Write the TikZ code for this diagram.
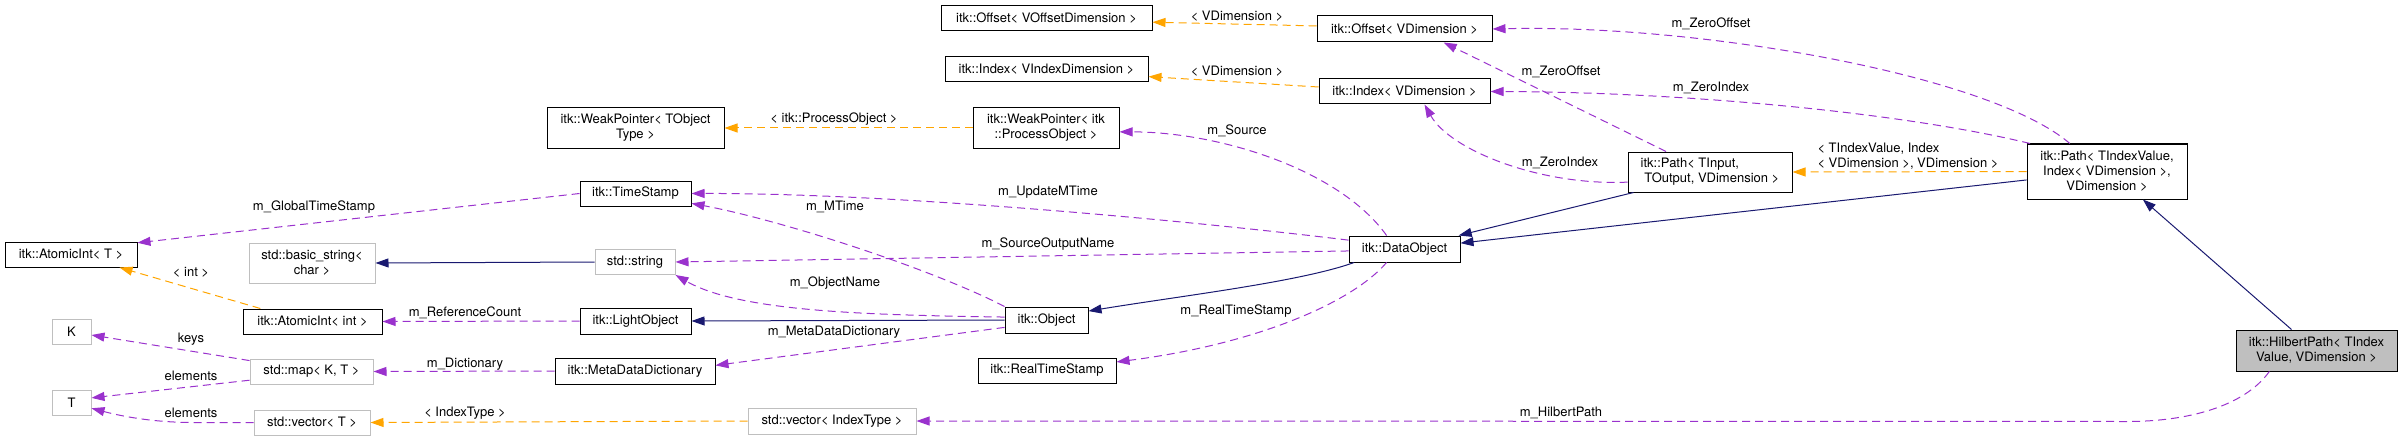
\documentclass[tikz,border=0pt]{standalone}
\usepackage{fontspec}
\setmainfont{TeX Gyre Heros}
\usetikzlibrary{arrows.meta}
\definecolor{usecol}{HTML}{9A32CD}
\definecolor{tplcol}{HTML}{FFA500}
\definecolor{inhcol}{HTML}{191970}
\definecolor{undoccol}{HTML}{BFBFBF}

\begin{document}
\begin{tikzpicture}[x=1pt, y=-1pt,
    font=\fontsize{13}{15}\selectfont,
    cls/.style={draw=black, line width=1pt, inner sep=2pt, align=center, minimum height=25pt},
    undoc/.style={cls, draw=undoccol},
    lbl/.style={inner sep=0pt, align=left},
    uses/.style={draw=usecol, line width=1pt, dash pattern=on 8pt off 5pt, -{Triangle[length=13pt,width=9pt]}},
    tmpl/.style={uses, draw=tplcol},
    inherit/.style={draw=inhcol, line width=1pt, -{Triangle[length=13pt,width=9pt]}}]
    \useasboundingbox (0,0) rectangle (2403,441);

    % Classes
    \node[cls, minimum width=132pt] (atomT) at (71,254.5) {itk::AtomicInt< T >};
    \node[undoc, minimum width=126pt, minimum height=40pt] (basicstr) at (312,263) {std::basic\_string<\\char >};
    \node[cls, minimum width=139pt] (atomInt) at (312.5,321.5) {itk::AtomicInt< int >};
    \node[undoc, minimum width=39pt] (keyK) at (71.5,331.5) {K};
    \node[undoc, minimum width=123pt] (stdmap) at (311.5,371.5) {std::map< K, T >};
    \node[undoc, minimum width=39pt] (valT) at (71.5,402.5) {T};
    \node[undoc, minimum width=116pt] (vecT) at (312,422.5) {std::vector< T >};
    \node[cls, minimum width=177pt, minimum height=40pt] (weakT) at (635.5,128) {itk::WeakPointer< TObject\\Type >};
    \node[cls, minimum width=111pt] (timestamp) at (635.5,193.5) {itk::TimeStamp};
    \node[undoc, minimum width=80pt] (stdstr) at (635,262) {std::string};
    \node[cls, minimum width=111pt, minimum height=26pt] (lightobj) at (635.5,321) {itk::LightObject};
    \node[cls, minimum width=160pt, minimum height=26pt] (metadict) at (635,371) {itk::MetaDataDictionary};
    \node[undoc, minimum width=168pt, minimum height=26pt] (vecIdx) at (832,421) {std::vector< IndexType >};
    \node[cls, minimum width=211pt] (offsetVO) at (1046.5,18.5) {itk::Offset< VOffsetDimension >};
    \node[cls, minimum width=203pt] (indexVI) at (1046.5,69.5) {itk::Index< VIndexDimension >};
    \node[cls, minimum width=146pt, minimum height=40pt] (weakP) at (1046,128) {itk::WeakPointer< itk\\::ProcessObject >};
    \node[cls, minimum width=83pt, minimum height=26pt] (object) at (1046.5,320) {itk::Object};
    \node[cls, minimum width=138pt] (realts) at (1047,370.5) {itk::RealTimeStamp};
    \node[cls, minimum width=175pt, minimum height=26pt] (offsetV) at (1404.5,29) {itk::Offset< VDimension >};
    \node[cls, minimum width=171pt] (indexV) at (1404.5,91.5) {itk::Index< VDimension >};
    \node[cls, minimum width=111pt, minimum height=26pt] (dataobj) at (1404.5,249) {itk::DataObject};
    \node[cls, align=left, minimum width=164pt, minimum height=40pt] (pathIn) at (1710,172) {itk::Path< TInput,\\\ TOutput, VDimension >};
    \node[cls, minimum width=160pt, minimum height=55pt] (pathIdx) at (2107,171.5) {itk::Path< TIndexValue,\\Index< VDimension >,\\VDimension >};
    \node[cls, fill=undoccol, minimum width=161pt, minimum height=41pt] (hilbert) at (2316.5,350.5) {itk::HilbertPath< TIndex\\Value, VDimension >};

    % Inheritance
    \draw[inherit] (stdstr.west) -- (basicstr.east);
    \draw[inherit] (object.west) -- (lightobj.east);
    \draw[inherit] (dataobj.195) .. controls (1300,282) and (1180,296) .. (object.12);
    \draw[inherit] (pathIn.195) -- (dataobj.14);
    \draw[inherit] (pathIdx.186) -- (dataobj.6);
    \draw[inherit] (hilbert.140) -- (pathIdx.-38);

    % Template instances
    \draw[tmpl] (atomInt.166) -- (atomT.-15) node[lbl] at (191,272) {< int >};
    \draw[tmpl] (vecIdx.west) -- (vecT.east) node[lbl] at (465,413) {< IndexType >};
    \draw[tmpl] (weakP.west) -- (weakT.east) node[lbl] at (834,119) {< itk::ProcessObject >};
    \draw[tmpl] (offsetV.178) -- (offsetVO.-2) node[lbl] at (1237,16) {< VDimension >};
    \draw[tmpl] (indexV.177) -- (indexVI.-4) node[lbl] at (1237,71) {< VDimension >};
    \draw[tmpl] (pathIdx.west) -- (pathIn.east) node[lbl] at (1908,156) {< TIndexValue, Index\\< VDimension >, VDimension >};

    % Members
    \draw[uses] (timestamp.west) -- (atomT.10) node[lbl] at (314,207) {m\_GlobalTimeStamp};
    \draw[uses] (lightobj.west) -- (atomInt.east) node[lbl] at (465,313) {m\_ReferenceCount};
    \draw[uses] (stdmap.170) -- (keyK.-10) node[lbl] at (191,339) {keys};
    \draw[uses] (stdmap.188) -- (valT.13) node[lbl] at (191,376) {elements};
    \draw[uses] (vecT.west) -- ++(-60,0) .. controls +(-40,0) and +(30,8) .. (valT.-16) node[lbl] at (191,413) {elements};
    \draw[uses] (metadict.west) -- (stdmap.east) node[lbl] at (465,364) {m\_Dictionary};
    \draw[uses] (dataobj.143) .. controls (1340,170) and (1220,132) .. (weakP.-3) node[lbl] at (1237,131) {m\_Source};
    \draw[uses] (dataobj.171) .. controls (1200,222) and (900,193) .. (timestamp.east) node[lbl] at (1048,192) {m\_UpdateMTime};
    \draw[uses] (object.north west) .. controls (930,268) and (780,220) .. (timestamp.-10) node[lbl] at (835,207) {m\_MTime};
    \draw[uses] (dataobj.182) -- (stdstr.east) node[lbl] at (1048,244) {m\_SourceOutputName};
    \draw[uses] (object.176) .. controls (870,315) and (740,312) .. (stdstr.south east) node[lbl] at (835,283) {m\_ObjectName};
    \draw[uses] (object.190) -- (metadict.4) node[lbl] at (834,332) {m\_MetaDataDictionary};
    \draw[uses] (dataobj.217) .. controls (1350,305) and (1250,345) .. (realts.7) node[lbl] at (1236,311) {m\_RealTimeStamp};
    \draw[uses] (pathIdx.143) .. controls (1990,75) and (1700,24) .. (offsetV.east) node[lbl] at (1711,24) {m\_ZeroOffset};
    \draw[uses] (pathIdx.160) .. controls (1900,112) and (1680,92) .. (indexV.east) node[lbl] at (1711,88) {m\_ZeroIndex};
    \draw[uses] (pathIn.155) -- (offsetV.-19) node[lbl] at (1561,72) {m\_ZeroOffset};
    \draw[uses] (pathIn.187) .. controls (1540,186) and (1450,150) .. (indexV.-33) node[lbl] at (1560,163) {m\_ZeroIndex};
    \draw[uses] (hilbert.204) .. controls +(-25,35) and +(60,0) .. ++(-142,50) -- (vecIdx.east) node[lbl] at (1561,413) {m\_HilbertPath};
\end{tikzpicture}
\end{document}
